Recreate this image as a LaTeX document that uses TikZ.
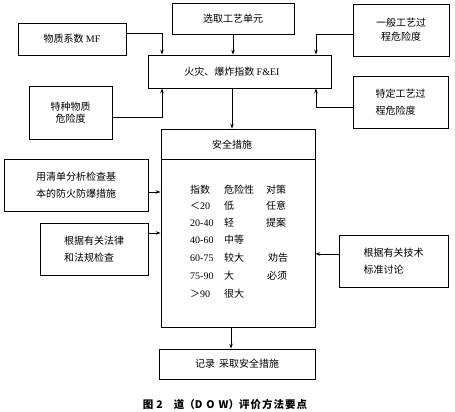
\documentclass[tikz,border=0pt]{standalone}
\usepackage{fontspec}
\setmainfont{Liberation Serif}
\newfontfamily\cjk{Noto Sans CJK SC}
\usetikzlibrary{arrows.meta}
\tikzset{
  box/.style={draw, line width=0.75pt, inner sep=0pt, align=center,
    font=\cjk\fontsize{10}{17.5}\selectfont},
  lbl/.style={inner sep=0pt, font=\cjk\fontsize{10}{12}\selectfont},
  cell/.style={anchor=west, inner sep=0pt, font=\cjk\fontsize{10}{12}\selectfont},
  arr/.style={line width=0.75pt, -{Stealth[length=5pt,width=3.5pt]}},
  plain/.style={line width=0.75pt},
}
\begin{document}
\begin{tikzpicture}[x=1pt,y=-1pt]
\useasboundingbox (0,0) rectangle (455,412);
% boxes
\node[box, minimum width=122pt, minimum height=31pt] (sel) at (233,18.5) {选取工艺单元};
\node[box, minimum width=108pt, minimum height=32pt] (mf) at (72,39) {物质系数 {\rmfamily MF}};
\node[box, minimum width=183pt, minimum height=33pt] (fei) at (239.5,71.5) {};
\node[lbl] (feil) at (232,72) {火灾、爆炸指数 {\rmfamily F\&EI}};
\node[box, minimum width=83pt, minimum height=53pt, font=\cjk\fontsize{10}{12.5}\selectfont] (tz) at (70.5,112.5) {特种物质\\危险度};
\node[box, minimum width=96pt, minimum height=52pt, font=\cjk\fontsize{10}{14}\selectfont] (yb) at (401,30) {一般工艺过\\程危险度};
\node[box, align=left, minimum width=95pt, minimum height=52pt] (td) at (400.5,102) {特定工艺过\\程危险度};
\node[box, minimum width=154pt, minimum height=198pt] (aq) at (238,228) {};
\node[lbl] (aql) at (232,145) {安全措施};
\draw[plain] ([yshift=-31pt]aq.north west) -- ([yshift=-31pt]aq.north east);
\node[box, align=left, minimum width=144pt, minimum height=52pt] (qd) at (76,185) {用清单分析检查基\\本的防火防爆措施};
\node[box, align=left, minimum width=108pt, minimum height=52pt] (fl) at (94,249) {根据有关法律\\和法规检查};
\node[box, align=left, minimum width=109pt, minimum height=52pt] (js) at (393.5,261) {根据有关技术\\标准讨论};
\node[box, minimum width=156pt, minimum height=30pt] (jl) at (237,364) {记录\hspace{4pt}采取安全措施};
% table
\foreach \ya/\a/\b/\c [count=\i] in {190/指数/危险性/对策, 206/＜{\rmfamily 20}/低/任意, 223/{\rmfamily 20-40}/轻/提案, 240/{\rmfamily 40-60}/中等/{}, 258/{\rmfamily 60-75}/较大/\hspace{2pt}劝告, 276/{\rmfamily 75-90}/大/\hspace{1pt}必须, 294/＞{\rmfamily 90}/很大/{}} {
  \node[cell] (ta\i) at (190,\ya) {\a};
  \node[cell] (tb\i) at (224,\ya) {\b};
  \node[cell] (tc\i) at (266,\ya) {\c};
}
% connectors
\draw[arr] ([yshift=6pt]mf.east) -| ([xshift=-77.5pt]fei.north);
\draw[arr] (sel.south) -- (sel.south |- fei.north);
\draw[arr] ([yshift=-4pt]yb.west) -| ([xshift=76.5pt]fei.north);
\draw[arr] ([yshift=-4.5pt]tz.east) -| ([xshift=-77.5pt]fei.south);
\draw[arr] ([yshift=-5pt]td.west) -| ([xshift=76.5pt]fei.south);
\draw[arr] ([xshift=-7.5pt]fei.south) -- ([xshift=-7.5pt]fei.south |- aq.north);
\draw[arr] ([yshift=-7pt]qd.east) -- ([yshift=-7pt]qd.east -| aq.west);
\draw[arr] ([yshift=16pt]fl.east) -- ([yshift=16pt]fl.east -| aq.west);
\draw[arr] ([yshift=7pt]js.west) -- ([yshift=7pt]js.west -| aq.east);
\draw[arr] ([xshift=-7pt]aq.south) -- ([xshift=-7pt]aq.south |- jl.north);
% caption
\node[inner sep=0pt, font=\cjk\bfseries\fontsize{10.5}{12}\selectfont] (cap) at (225,404)
  {图\hspace{3pt}2\hspace{11pt}道（D\hspace{4pt}O\hspace{4pt}W）评\hspace{1pt}价\hspace{1pt}方\hspace{1pt}法\hspace{1pt}要\hspace{1pt}点};
\end{tikzpicture}
\end{document}
